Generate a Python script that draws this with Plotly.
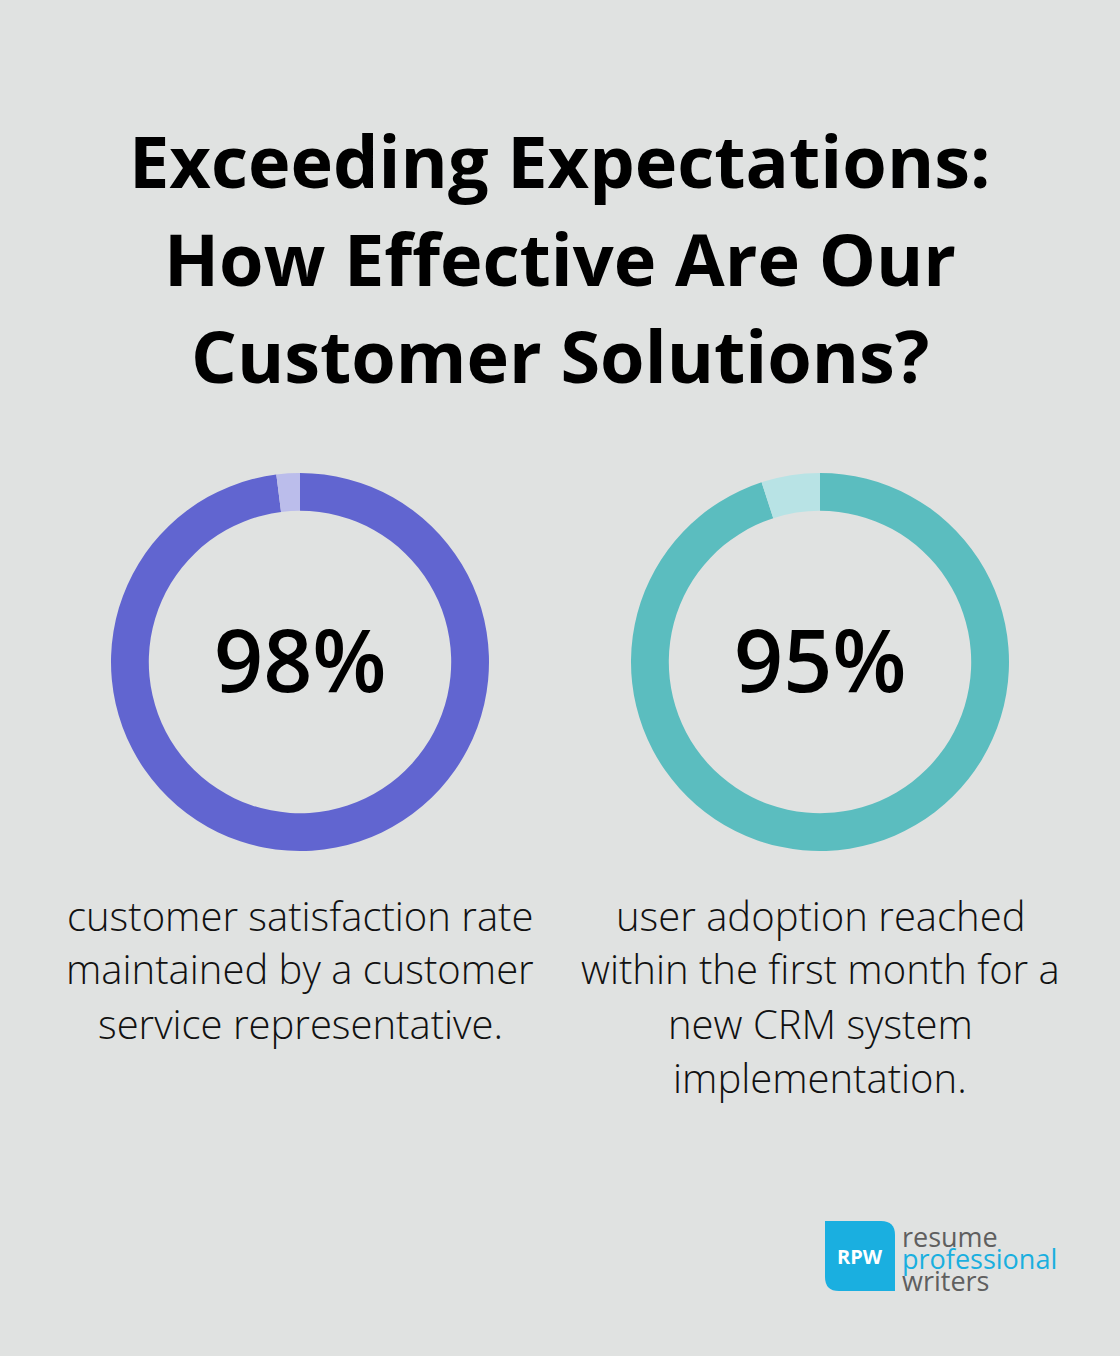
import plotly.graph_objects as go

W, H = 1120, 1356
title_lines = ["Exceeding Expectations:", "How Effective Are Our", "Customer Solutions?"]
values_pct = [98, 95]
labels_pct = ["98%", "95%"]
desc_left = ["customer satisfaction rate", "maintained by a customer", "service representative."]
desc_right = ["user adoption reached", "within the first month for a", "new CRM system", "implementation."]
main_colors = ["#6165D0", "#5BBDBF"]
light_colors = ["#BBBDEB", "#B8E3E5"]

BG = "#E0E2E1"
fig = go.Figure()

centers = [300, 820]
R = 189
cy = 662
for i, v in enumerate(values_pct):
    cx = centers[i]
    fig.add_trace(go.Pie(
        values=[v, 100 - v],
        labels=["a", "b"],
        hole=0.8,
        sort=False,
        direction="clockwise",
        rotation=0,
        marker=dict(colors=[main_colors[i], light_colors[i]], line=dict(width=0)),
        textinfo="none",
        hoverinfo="skip",
        showlegend=False,
        domain=dict(x=[(cx - R) / W, (cx + R) / W], y=[1 - (cy + R) / H, 1 - (cy - R) / H]),
    ))

ann = []
def py(y):
    return 1 - y / H

title_y = [160, 258, 355]
for t, y in zip(title_lines, title_y):
    ann.append(dict(text=t, x=0.5, y=py(y), xref="paper", yref="paper", showarrow=False,
                    font=dict(family="Open Sans", size=72, color="#000000", weight="bold"),
                    xanchor="center", yanchor="middle"))

for i, lab in enumerate(labels_pct):
    ann.append(dict(text=lab, x=centers[i] / W, y=py(658), xref="paper", yref="paper", showarrow=False,
                    font=dict(family="Open Sans", size=86, color="#000000", weight=600),
                    xanchor="center", yanchor="middle"))

for j, t in enumerate(desc_left):
    ann.append(dict(text=t, x=300 / W, y=py(915 + 54 * j), xref="paper", yref="paper", showarrow=False,
                    font=dict(family="Open Sans", size=40, color="#111111", weight=300),
                    xanchor="center", yanchor="middle"))
for j, t in enumerate(desc_right):
    ann.append(dict(text=t, x=820 / W, y=py(915 + 54 * j), xref="paper", yref="paper", showarrow=False,
                    font=dict(family="Open Sans", size=40, color="#111111", weight=300),
                    xanchor="center", yanchor="middle"))

# logo
ann.append(dict(text="RPW", x=860 / W, y=py(1256), xref="paper", yref="paper", showarrow=False,
                font=dict(family="Open Sans", size=20, color="#FFFFFF", weight="bold"),
                xanchor="center", yanchor="middle"))
for t, y, c in [("resume", 1236, "#5F5F5F"), ("professional", 1258, "#1AAFDF"), ("writers", 1280, "#5F5F5F")]:
    ann.append(dict(text=t, x=901 / W, y=py(y), xref="paper", yref="paper", showarrow=False,
                    font=dict(family="Open Sans", size=27, color=c, weight=500),
                    xanchor="left", yanchor="middle", borderpad=0))

x0, y0, x1, y1, r = 825, 1221, 895, 1291, 14
path = (f"M {x0/W},{py(y0)} L {(x1-r)/W},{py(y0)} Q {x1/W},{py(y0)} {x1/W},{py(y0+r)} "
        f"L {x1/W},{py(y1)} L {(x0+r)/W},{py(y1)} Q {x0/W},{py(y1)} {x0/W},{py(y1-r)} Z")

fig.update_layout(
    width=W, height=H,
    margin=dict(l=0, r=0, t=0, b=0),
    paper_bgcolor=BG, plot_bgcolor=BG,
    annotations=ann,
    shapes=[dict(type="path", path=path, xref="paper", yref="paper",
                 fillcolor="#1AAFE0", line=dict(width=0), layer="below")],
)
fig.write_html("out.html", config={"displayModeBar": False},
               post_script="document.body.style.margin='0';document.body.style.overflow='hidden';")
